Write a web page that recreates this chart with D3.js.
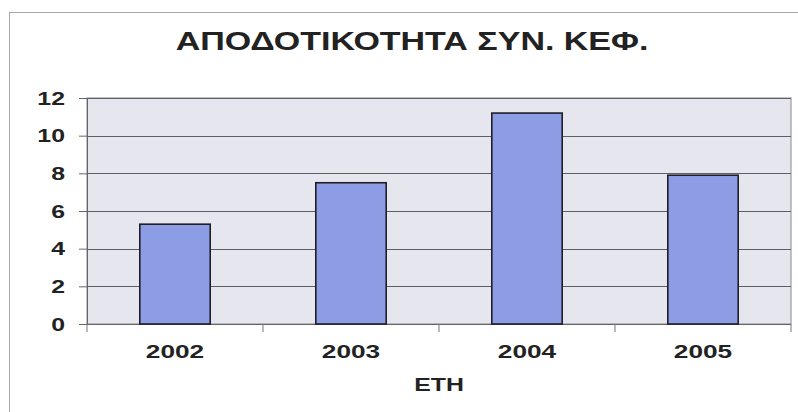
<!DOCTYPE html>
<html>
<head>
<meta charset="utf-8">
<script src="https://cdn.jsdelivr.net/npm/d3@7"></script>
<style>
  html, body { margin: 0; padding: 0; background: #fff; }
  svg { display: block; }
  text { font-family: "Liberation Sans", Arial, sans-serif; fill: #222; }
</style>
</head>
<body>
<svg id="chart" width="798" height="412"></svg>
<script>
// Return on equity by year
const years = ["2002", "2003", "2004", "2005"];
const values = [5.3, 7.5, 11.2, 7.9];
const yTicks = [0, 2, 4, 6, 8, 10, 12];
const title = "ΑΠΟΔΟΤΙΚΟΤΗΤΑ ΣΥΝ. ΚΕΦ.";
const xTitle = "ΕΤΗ";

const W = 798, H = 412;
const plot = { left: 87, right: 791, top: 98, bottom: 324 };
const stretch = 1.38; // wide lettering

const svg = d3.select("#chart");

// outer chart frame
svg.append("rect")
  .attr("x", 9.5).attr("y", 12.5)
  .attr("width", W + 10).attr("height", H + 10)
  .attr("fill", "#fff").attr("stroke", "#a8a8a8").attr("stroke-width", 1);

const x = d3.scaleBand().domain(years)
  .range([plot.left, plot.right])
  .paddingInner(0.6).paddingOuter(0.3);
const y = d3.scaleLinear().domain([0, 12]).range([plot.bottom, plot.top]);

// plot background
svg.append("rect")
  .attr("x", plot.left).attr("y", plot.top)
  .attr("width", plot.right - plot.left).attr("height", plot.bottom - plot.top)
  .attr("fill", "#e6e6ef").attr("stroke", "#9a9aa2").attr("stroke-width", 1.2);

// horizontal gridlines
svg.append("g").selectAll("line")
  .data(yTicks.filter(t => t > 0))
  .join("line")
  .attr("x1", plot.left).attr("x2", plot.right)
  .attr("y1", d => Math.round(y(d)) + 0.5).attr("y2", d => Math.round(y(d)) + 0.5)
  .attr("stroke", "#5e5e64").attr("stroke-width", 1);

// left axis
const yAxis = svg.append("g")
  .attr("transform", `translate(${plot.left},0)`)
  .call(d3.axisLeft(y).tickValues(yTicks).tickSize(8).tickFormat(""));
yAxis.select(".domain").attr("stroke", "#666");
yAxis.selectAll(".tick line").attr("stroke", "#666");

// y tick labels
svg.append("g").selectAll("text")
  .data(yTicks)
  .join("text")
  .attr("transform", d => `translate(65,${y(d) + 6.5}) scale(${stretch},1)`)
  .attr("text-anchor", "end")
  .attr("font-size", 18)
  .attr("font-weight", "bold")
  .attr("fill", "#2a2a2a")
  .text(d => d);

// bottom axis line and category separators
svg.append("line")
  .attr("x1", plot.left).attr("x2", plot.right)
  .attr("y1", plot.bottom + 0.5).attr("y2", plot.bottom + 0.5)
  .attr("stroke", "#666").attr("stroke-width", 1.2);
const seps = years.map(d => x(d) - x.step() * x.paddingOuter());
seps.push(plot.right);
svg.append("g").selectAll("line")
  .data(seps)
  .join("line")
  .attr("x1", d => d).attr("x2", d => d)
  .attr("y1", plot.bottom).attr("y2", plot.bottom + 8)
  .attr("stroke", "#777").attr("stroke-width", 1);

// bars
svg.append("g").selectAll("rect")
  .data(values)
  .join("rect")
  .attr("x", (d, i) => x(years[i]))
  .attr("y", d => y(d))
  .attr("width", x.bandwidth())
  .attr("height", d => y(0) - y(d))
  .attr("fill", "#8c9de6")
  .attr("stroke", "#1e1e24").attr("stroke-width", 1.6);

// category labels
svg.append("g").selectAll("text")
  .data(years)
  .join("text")
  .attr("transform", d => `translate(${x(d) + x.bandwidth() / 2},358) scale(${stretch},1)`)
  .attr("text-anchor", "middle")
  .attr("font-size", 19)
  .attr("font-weight", "bold")
  .attr("fill", "#2a2a2a")
  .text(d => d);

// axis title
svg.append("text")
  .attr("transform", `translate(${(plot.left + plot.right) / 2},391) scale(${stretch},1)`)
  .attr("text-anchor", "middle")
  .attr("font-size", 18)
  .attr("font-weight", "bold")
  .attr("fill", "#2a2a2a")
  .text(xTitle);

// chart title
svg.append("text")
  .attr("transform", `translate(412,50) scale(1.36,1)`)
  .attr("text-anchor", "middle")
  .attr("font-size", 25)
  .attr("font-weight", "bold")
  .attr("fill", "#1a1a1a")
  .text(title);
</script>
</body>
</html>
